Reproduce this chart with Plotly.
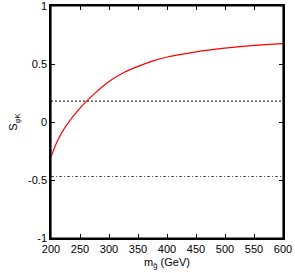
import plotly.graph_objects as go

# Data
m_gluino = [200, 212, 225, 250, 275, 300, 325, 350, 375, 400, 450, 500, 550, 600]
s_phik = [-0.30, -0.154, -0.04, 0.12, 0.245, 0.35, 0.425, 0.48, 0.525, 0.56, 0.605, 0.636, 0.66, 0.676]
upper_ref = 0.18
lower_ref = -0.47

x_ticks = [200, 250, 300, 350, 400, 450, 500, 550, 600]
y_ticks = [-1, -0.5, 0, 0.5, 1]
y_tick_text = ["-1", "-0.5", "0", "0.5", "1"]

fig = go.Figure()
fig.add_trace(go.Scatter(x=[m_gluino[0], m_gluino[-1]], y=[upper_ref, upper_ref], mode="lines",
                         line=dict(color="black", width=1, dash="2px,2px"), hoverinfo="skip"))
fig.add_trace(go.Scatter(x=[m_gluino[0], m_gluino[-1]], y=[lower_ref, lower_ref], mode="lines",
                         line=dict(color="#555555", width=1, dash="3px,2px,1px,2px"), hoverinfo="skip"))
fig.add_trace(go.Scatter(x=m_gluino, y=s_phik, mode="lines",
                         line=dict(color="red", width=1.2, shape="spline", smoothing=0.8), hoverinfo="skip"))

axis_common = dict(showgrid=False, zeroline=False, showline=True, linecolor="black", linewidth=1.5,
                   mirror="allticks", ticks="inside", ticklen=4, tickcolor="black", tickwidth=1,
                   automargin=False, ticklabeloverflow="allow",
                   tickfont=dict(family="Liberation Sans, Arial, sans-serif", size=11, color="black"))

fig.add_shape(type="rect", xref="paper", yref="paper", x0=0, x1=1, y0=0, y1=1,
              line=dict(color="black", width=1.2), fillcolor="rgba(0,0,0,0)", layer="above")

fig.update_layout(
    width=295, height=273,
    margin=dict(l=51, r=12, t=6, b=35),
    paper_bgcolor="white", plot_bgcolor="white",
    showlegend=False,
    font=dict(family="Liberation Sans, Arial, sans-serif", size=11, color="black"),
    xaxis=dict(range=[200, 600], tickvals=x_ticks, title=dict(text="m<sub>g̃</sub> (GeV)", standoff=4,
               font=dict(size=11)), **axis_common),
    yaxis=dict(range=[-1, 1], tickvals=y_ticks, ticktext=y_tick_text,
               title=dict(text="S<sub>φK</sub>", standoff=8, font=dict(size=11)), **axis_common),
)

fig.write_html("out.html", config={"displayModeBar": False},
               post_script="document.body.style.margin='0';document.body.style.overflow='hidden';")
